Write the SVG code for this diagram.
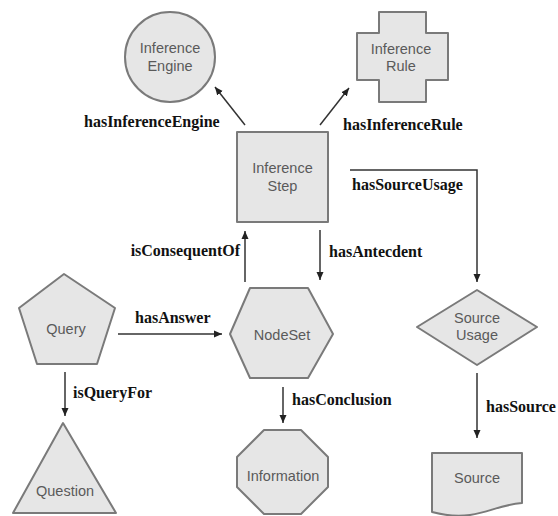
<svg xmlns="http://www.w3.org/2000/svg" width="558" height="516" viewBox="0 0 558 516">
<style>
.shape{fill:#e6e6e6;stroke:#7a7a7a;stroke-width:2;stroke-linejoin:round}
.nt{font-family:"Liberation Sans",Arial,sans-serif;font-size:14.5px;fill:#5a5a5a;text-anchor:middle}
.el{font-family:"Liberation Serif","Times New Roman",serif;font-size:16px;font-weight:bold;fill:#111}
.conn{fill:none;stroke:#333;stroke-width:1.5}
</style>
<defs>
<marker id="ah" markerWidth="8" markerHeight="8" refX="8" refY="4" orient="auto" markerUnits="userSpaceOnUse">
<path d="M0,0.5 L8,4 L0,7.5 Z" fill="#222"/>
</marker>
</defs>
<rect width="558" height="516" fill="#fff"/>
<g id="connectors">
<line class="conn" x1="245" y1="125" x2="215" y2="87" marker-end="url(#ah)"/>
<line class="conn" x1="320" y1="125" x2="349" y2="88" marker-end="url(#ah)"/>
<path class="conn" d="M350,170 H477 V282" marker-end="url(#ah)"/>
<line class="conn" x1="245" y1="282" x2="245" y2="231" marker-end="url(#ah)"/>
<line class="conn" x1="320" y1="230" x2="320" y2="280" marker-end="url(#ah)"/>
<line class="conn" x1="118" y1="334" x2="222" y2="334" marker-end="url(#ah)"/>
<line class="conn" x1="65" y1="372" x2="65" y2="416" marker-end="url(#ah)"/>
<line class="conn" x1="283" y1="387" x2="283" y2="423" marker-end="url(#ah)"/>
<line class="conn" x1="477" y1="373" x2="477" y2="438" marker-end="url(#ah)"/>
<text class="el" x="84" y="127">hasInferenceEngine</text>
<text class="el" x="343" y="130">hasInferenceRule</text>
<text class="el" x="352" y="190">hasSourceUsage</text>
<text class="el" x="240" y="256" text-anchor="end">isConsequentOf</text>
<text class="el" x="329" y="257">hasAntecdent</text>
<text class="el" x="135" y="323">hasAnswer</text>
<text class="el" x="73" y="398">isQueryFor</text>
<text class="el" x="292" y="405">hasConclusion</text>
<text class="el" x="486" y="412">hasSource</text>
</g>
<g id="inference-engine">
<circle class="shape" cx="170" cy="57" r="45"/>
<text class="nt" x="170" y="53">Inference</text>
<text class="nt" x="170" y="71">Engine</text>
</g>
<g id="inference-rule">
<path class="shape" d="M379,12 H426 V33 H448 V80 H426 V102 H379 V80 H357 V33 H379 Z"/>
<text class="nt" x="401" y="54">Inference</text>
<text class="nt" x="401" y="71">Rule</text>
</g>
<g id="inference-step">
<rect class="shape" x="237" y="132" width="91" height="90"/>
<text class="nt" x="282.5" y="173">Inference</text>
<text class="nt" x="282.5" y="191">Step</text>
</g>
<g id="query">
<polygon class="shape" points="64,274 115,308 97,364 37,364 19,308"/>
<text class="nt" x="66" y="334">Query</text>
</g>
<g id="nodeset">
<polygon class="shape" points="230,334 250,288 308,288 333,334 308,378 250,378"/>
<text class="nt" x="282" y="340">NodeSet</text>
</g>
<g id="source-usage">
<polygon class="shape" points="477,290 537,327 477,365 417,327"/>
<text class="nt" x="477" y="323">Source</text>
<text class="nt" x="477" y="340">Usage</text>
</g>
<g id="question">
<polygon class="shape" points="63,423 116,513 13,513"/>
<text class="nt" x="65" y="496">Question</text>
</g>
<g id="information">
<polygon class="shape" points="264,430 301,430 328,457 328,487 301,514 264,514 237,487 237,457"/>
<text class="nt" x="283" y="481">Information</text>
</g>
<g id="source">
<path class="shape" d="M432,453 H522 V503 C500,505 490,512 470,515 C455,517 443,515 432,512 Z"/>
<text class="nt" x="477" y="483">Source</text>
</g>
</svg>
